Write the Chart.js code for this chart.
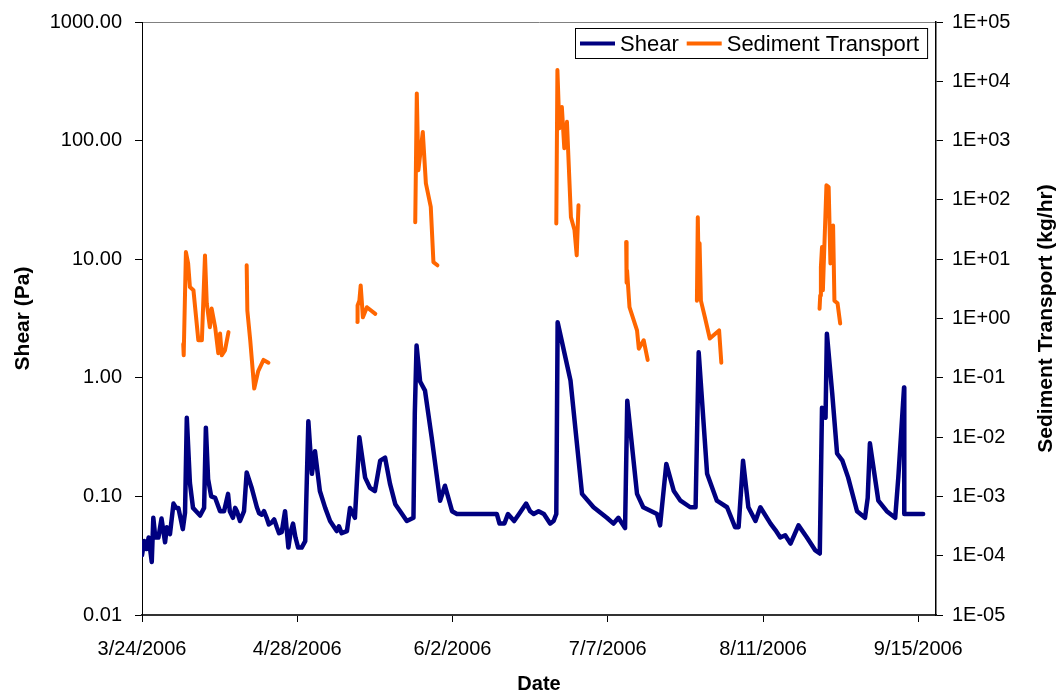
<!DOCTYPE html>
<html>
<head>
<meta charset="utf-8">
<script src="https://cdn.jsdelivr.net/npm/chart.js@4.4.1/dist/chart.umd.min.js"></script>
<style>
  html, body { margin: 0; padding: 0; background: #fff; }
  #wrap { width: 1058px; height: 694px; }
</style>
</head>
<body>
<div id="wrap"><canvas id="chart" width="1058" height="694"></canvas></div>
<script>
// x values are days since 3/24/2006
const shearDays = [0, 0.5, 1.0, 1.5, 2.2, 2.55, 3.0, 3.7, 4.4, 5.2, 5.6, 6.3, 7.1, 7.7, 8.2, 9.2, 9.7, 10.1, 10.8, 11.5,
  12.2, 13.1, 14.0, 14.4, 14.9, 15.6, 16.5, 17.6, 18.5, 19.4, 19.8, 20.5, 21.0, 21.4, 22.1, 23.0, 23.6, 24.7, 25.9, 26.4,
  27.0, 27.5, 28.1, 28.6, 29.2, 29.8, 30.4, 30.9, 31.5, 32.25, 33.0, 33.5, 34.05, 34.6, 35.2, 36.0, 36.8, 37.5, 38.3, 39.0,
  40.1, 41.3, 42.4, 43.9, 44.4, 45.0, 46.2, 46.9, 48.0, 49.0, 50.3, 51.4, 52.5, 53.7, 54.8, 55.9, 57.1, 58.2, 59.7, 61.2,
  61.5, 61.9, 62.7, 63.8, 65.3, 67.2, 68.3, 69.9, 71.0, 80.0, 80.6, 81.7, 82.5, 83.9, 85.0, 86.6, 87.5, 88.3, 89.4, 90.6,
  92.0, 92.8, 93.4, 93.7, 96.6, 99.2, 101.8, 104.8, 106.3, 107.4, 108.9, 109.4, 111.6, 113.0, 116.1, 116.8, 118.2, 119.9, 121.4, 123.6,
  124.8, 125.5, 127.4, 129.6, 131.9, 133.7, 134.5, 135.5, 136.7, 138.3, 139.4, 141.7, 142.8, 143.9, 145.0, 146.2, 148.0, 149.9, 151.8, 152.8,
  153.3, 154.1, 154.4, 155.6, 156.7, 157.9, 159.2, 161.2, 163.0, 163.6, 164.1, 166.0, 167.9, 169.8, 170.5, 171.8, 171.85, 176.1];
const shearValues = [0.032, 0.042, 0.036, 0.045, 0.028, 0.066, 0.045, 0.045, 0.065, 0.041, 0.055, 0.048, 0.087, 0.08, 0.08, 0.053, 0.073, 0.46, 0.13, 0.08,
  0.075, 0.069, 0.08, 0.38, 0.14, 0.1, 0.097, 0.075, 0.075, 0.105, 0.075, 0.066, 0.08, 0.075, 0.062, 0.075, 0.159, 0.119, 0.081, 0.072,
  0.07, 0.075, 0.066, 0.058, 0.06, 0.064, 0.055, 0.049, 0.05, 0.075, 0.037, 0.05, 0.059, 0.045, 0.037, 0.037, 0.042, 0.43, 0.155, 0.24,
  0.111, 0.08, 0.062, 0.051, 0.056, 0.049, 0.051, 0.08, 0.066, 0.315, 0.144, 0.118, 0.111, 0.2, 0.212, 0.128, 0.086, 0.075, 0.062, 0.066,
  0.5, 1.87, 0.93, 0.78, 0.315, 0.092, 0.123, 0.075, 0.071, 0.071, 0.059, 0.059, 0.071, 0.062, 0.071, 0.087, 0.075, 0.071, 0.075, 0.071,
  0.059, 0.062, 0.071, 2.94, 0.95, 0.105, 0.081, 0.066, 0.059, 0.066, 0.054, 0.64, 0.105, 0.081, 0.071, 0.057, 0.188, 0.111, 0.092, 0.081,
  0.081, 1.64, 0.155, 0.092, 0.081, 0.055, 0.055, 0.2, 0.081, 0.062, 0.081, 0.059, 0.052, 0.045, 0.047, 0.04, 0.057, 0.045, 0.035, 0.033,
  0.56, 0.46, 2.35, 0.74, 0.23, 0.2, 0.144, 0.075, 0.066, 0.097, 0.28, 0.092, 0.075, 0.066, 0.144, 0.83, 0.071, 0.071];

// null values break the sediment line between events
const sedDays = [9.3, 9.4, 9.9, 10.4, 10.8, 11.6, 12.7, 13.5, 14.2, 14.6, 15.3, 15.7, 16.5, 17.2, 17.6, 18.0, 18.7, 19.5, 21,
  23.6, 23.75, 24.4, 25.3, 26.2, 27.4, 28.5, 40,
  48.55, 48.6, 49.0, 49.3, 49.8, 50.7, 52.6, 57,
  61.6, 61.95, 62.3, 63.3, 64.0, 65.1, 65.7, 66.6, 80,
  93.4, 93.65, 94.1, 94.65, 95.2, 95.8, 96.7, 97.5, 98.0, 98.4, 104,
  109.15, 109.25, 109.35, 109.9, 111.6, 112.0, 113.1, 114.0, 120,
  125.1, 125.3, 125.5, 125.7, 126.0, 126.9, 128.0, 130.1, 130.6, 140,
  152.75, 152.9, 153.05, 153.3, 153.5, 153.8, 154.3, 154.8, 155.2, 155.8, 156.1, 156.8, 157.4];
const sedValues = [0.37, 0.24, 13.2, 8.5, 3.4, 3.0, 0.43, 0.43, 11.6, 1.8, 0.71, 1.47, 0.71, 0.26, 0.56, 0.24, 0.29, 0.59, null,
  7.9, 1.36, 0.43, 0.066, 0.13, 0.2, 0.18, null,
  0.87, 1.66, 2.0, 3.6, 1.05, 1.55, 1.2, null,
  42, 6250, 316, 1400, 190, 76, 8.9, 7.9, null,
  40, 15500, 1620, 3700, 745, 2070, 51, 31, 11.6, 81, null,
  19.5, 4.0, 6.5, 1.55, 0.63, 0.31, 0.43, 0.2, null,
  2.0, 51, 6.0, 18.5, 2.0, 1.05, 0.46, 0.63, 0.18, null,
  1.46, 2.45, 7.4, 16, 3.0, 14, 177, 165, 8.5, 37, 2.0, 1.8, 0.82];

const xTickDays = [0, 35, 70, 105, 140, 175];
const xTickLabels = ['3/24/2006', '4/28/2006', '6/2/2006', '7/7/2006', '8/11/2006', '9/15/2006'];
const shearTicks = [0.01, 0.1, 1, 10, 100, 1000];
const shearTickLabels = ['0.01', '0.10', '1.00', '10.00', '100.00', '1000.00'];
const sedTicks = [1e-5, 1e-4, 1e-3, 1e-2, 1e-1, 1, 10, 100, 1000, 1e4, 1e5];
const sedTickLabels = ['1E-05', '1E-04', '1E-03', '1E-02', '1E-01', '1E+00', '1E+01', '1E+02', '1E+03', '1E+04', '1E+05'];

const FONT = "'Liberation Sans', Arial, sans-serif";
Chart.defaults.font.family = FONT;
Chart.defaults.color = '#000';

const toPoints = (days, vals) => days.map((d, i) => ({ x: d, y: vals[i] }));

// fixed axis sizes so the plot area sits where the original's does
const fixVertical = w => s => { s.width = w; s.paddingTop = 10; s.paddingBottom = 10; };

// legend with a frame, drawn inside the plot area (top right)
const boxLegend = {
  id: 'boxLegend',
  afterDraw(chart) {
    const ctx = chart.ctx;
    const area = chart.chartArea;
    ctx.save();
    ctx.font = '22px ' + FONT;
    const lineLen = 35, gapLine = 5, gapItem = 8, padL = 5, padR = 8, h = 30;
    const items = chart.data.datasets.map(ds => ({
      label: ds.label, color: ds.borderColor, w: ctx.measureText(ds.label).width
    }));
    let width = padL + padR;
    items.forEach((it, i) => { width += lineLen + gapLine + it.w + (i ? gapItem : 0); });
    const right = area.right - 9, top = area.top + 6;
    const left = Math.round(right - width);
    ctx.fillStyle = '#fff';
    ctx.fillRect(left, top, width, h);
    ctx.strokeStyle = '#000';
    ctx.lineWidth = 1;
    ctx.strokeRect(left + 0.5, top + 0.5, width, h);
    const cy = top + h / 2 + 0.5;
    let x = left + padL;
    items.forEach((it, i) => {
      if (i) x += gapItem;
      ctx.strokeStyle = it.color;
      ctx.lineWidth = 4;
      ctx.beginPath();
      ctx.moveTo(x, cy);
      ctx.lineTo(x + lineLen, cy);
      ctx.stroke();
      x += lineLen + gapLine;
      ctx.fillStyle = '#000';
      ctx.textBaseline = 'middle';
      ctx.fillText(it.label, x, cy + 1);
      x += it.w;
    });
    ctx.restore();
  }
};

// right axis title reads bottom-to-top like the left one
const rightTitle = {
  id: 'rightTitle',
  afterDraw(chart) {
    const s = chart.scales.ySed;
    const ctx = chart.ctx;
    ctx.save();
    ctx.font = 'bold 21px ' + FONT;
    ctx.fillStyle = '#000';
    ctx.textAlign = 'center';
    ctx.textBaseline = 'middle';
    ctx.translate(s.right - 12, (s.top + s.bottom) / 2);
    ctx.rotate(-Math.PI / 2);
    ctx.fillText('Sediment Transport (kg/hr)', 0, 0);
    ctx.restore();
  }
};

new Chart(document.getElementById('chart'), {
  type: 'line',
  data: {
    datasets: [{
      label: 'Shear',
      data: toPoints(shearDays, shearValues),
      yAxisID: 'y',
      borderColor: '#000080',
      backgroundColor: '#000080',
      borderWidth: 4.5,
      pointRadius: 0,
      tension: 0,
      borderCapStyle: 'round',
      borderJoinStyle: 'round'
    }, {
      label: 'Sediment Transport',
      data: toPoints(sedDays, sedValues),
      yAxisID: 'ySed',
      borderColor: '#FF6600',
      backgroundColor: '#FF6600',
      borderWidth: 4,
      pointRadius: 0,
      tension: 0,
      spanGaps: false,
      borderCapStyle: 'round',
      borderJoinStyle: 'round'
    }]
  },
  options: {
    responsive: false,
    animation: false,
    devicePixelRatio: 1,
    events: [],
    layout: { padding: { top: 22, left: 0, right: 0, bottom: 0 } },
    plugins: { legend: { display: false }, tooltip: { enabled: false } },
    scales: {
      x: {
        type: 'linear', min: 0, max: 179,
        afterBuildTicks: s => { s.ticks = xTickDays.map(v => ({ value: v })); },
        afterFit: s => { s.height = 79; },
        ticks: { font: { size: 20 }, padding: 15, maxRotation: 0, autoSkip: false,
          callback: (v, i) => xTickLabels[i] },
        grid: { drawOnChartArea: false, tickLength: 7, tickColor: '#000' },
        border: { color: '#333', width: 2 },
        title: { display: true, text: 'Date', font: { size: 20, weight: 'bold', lineHeight: 1 },
          padding: { top: 0, bottom: 0 } }
      },
      y: {
        type: 'logarithmic', position: 'left', min: 0.01, max: 1000,
        afterBuildTicks: s => { s.ticks = shearTicks.map(v => ({ value: v })); },
        afterFit: fixVertical(142),
        ticks: { font: { size: 20 }, padding: 13, autoSkip: false,
          callback: (v, i) => shearTickLabels[i] },
        grid: {
          color: c => (c.tick && c.tick.value === 1000) ? '#808080' : 'rgba(0,0,0,0)',
          tickColor: '#000', tickLength: 7
        },
        border: { color: '#000', width: 1 },
        title: { display: true, text: 'Shear (Pa)', font: { size: 21, weight: 'bold' },
          padding: { top: 11, bottom: 0 } }
      },
      ySed: {
        type: 'logarithmic', position: 'right', min: 1e-5, max: 1e5,
        afterBuildTicks: s => { s.ticks = sedTicks.map(v => ({ value: v })); },
        afterFit: fixVertical(122),
        ticks: { font: { size: 20 }, padding: 9, autoSkip: false,
          callback: (v, i) => sedTickLabels[i] },
        grid: { drawOnChartArea: false, tickColor: '#000', tickLength: 7 },
        border: { color: '#000', width: 1.5 }
      }
    }
  },
  plugins: [boxLegend, rightTitle]
});
</script>
</body>
</html>
